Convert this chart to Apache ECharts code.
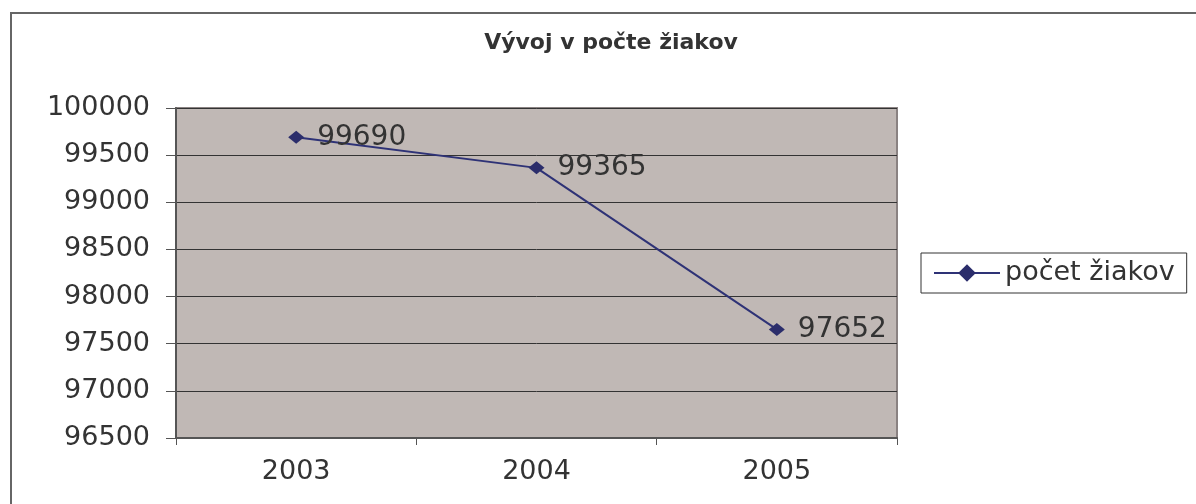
<!DOCTYPE html>
<html>
<head>
<meta charset="utf-8">
<script src="https://cdn.jsdelivr.net/npm/echarts@6/dist/echarts.min.js"></script>
<style>
    html, body { margin: 0; padding: 0; background: #fff; }
    #chart { width: 1196px; height: 504px; }
</style>
</head>
<body>
<div id="chart"></div>
<script>
// údaje grafu
const years = ["2003", "2004", "2005"];
const pocetZiakov = [99690, 99365, 97652];
const seriesName = "počet žiakov";
const chartTitle = "Vývoj v počte žiakov";

const font = "DejaVu Sans";
const textColor = "#333";

const chart = echarts.init(document.getElementById("chart"));

const option = {
    animation: false,
    backgroundColor: "#fff",
    title: {
        text: chartTitle,
        left: 611,
        top: 32,
        padding: 0,
        textAlign: "center",
        textStyle: {
            fontFamily: font,
            fontSize: 22,
            fontWeight: "bold",
            color: textColor,
        },
    },
    graphic: [
        {
            // vonkajší rámček
            type: "rect",
            shape: { x: 11, y: 13, width: 1200, height: 500 },
            style: { fill: "none", stroke: "#666", lineWidth: 2 },
            z: -1,
        },
    ],
    legend: {
        data: [seriesName],
        left: 921,
        top: 253,
        padding: [6, 12, 6, 12],
        borderColor: "#333",
        borderWidth: 1,
        itemWidth: 66,
        itemHeight: 22,
        textStyle: {
            fontFamily: font,
            fontSize: 27,
            lineHeight: 28,
            color: textColor,
        },
    },
    grid: {
        left: 176,
        right: 299,
        top: 108,
        bottom: 66,
        show: true,
        backgroundColor: "#c0b8b5",
        borderColor: "#8a8282",
        borderWidth: 2,
    },
    xAxis: {
        type: "category",
        data: years,
        boundaryGap: true,
        axisLine: { lineStyle: { color: "#555", width: 2 } },
        axisTick: { show: true, length: 7, lineStyle: { color: "#555" } },
        axisLabel: {
            margin: 20,
            fontFamily: font,
            fontSize: 27,
            color: textColor,
        },
        splitLine: { show: false },
    },
    yAxis: {
        type: "value",
        min: 96500,
        max: 100000,
        interval: 500,
        axisLine: { show: true, lineStyle: { color: "#555", width: 2 } },
        axisTick: { show: true, length: 10, lineStyle: { color: "#555" } },
        axisLabel: {
            margin: 26,
            fontFamily: font,
            fontSize: 27,
            color: textColor,
            formatter: v => String(v),
        },
        splitLine: { show: true, lineStyle: { color: "#333", width: 1 } },
    },
    series: [
        {
            name: seriesName,
            type: "line",
            data: pocetZiakov,
            symbol: "diamond",
            symbolSize: [16, 13],
            itemStyle: { color: "#2b2d6b" },
            lineStyle: { color: "#2e3276", width: 2 },
            label: {
                show: true,
                position: "right",
                distance: 13,
                fontFamily: font,
                fontSize: 28,
                color: textColor,
            },
        },
    ],
};

chart.setOption(option);
</script>
</body>
</html>
